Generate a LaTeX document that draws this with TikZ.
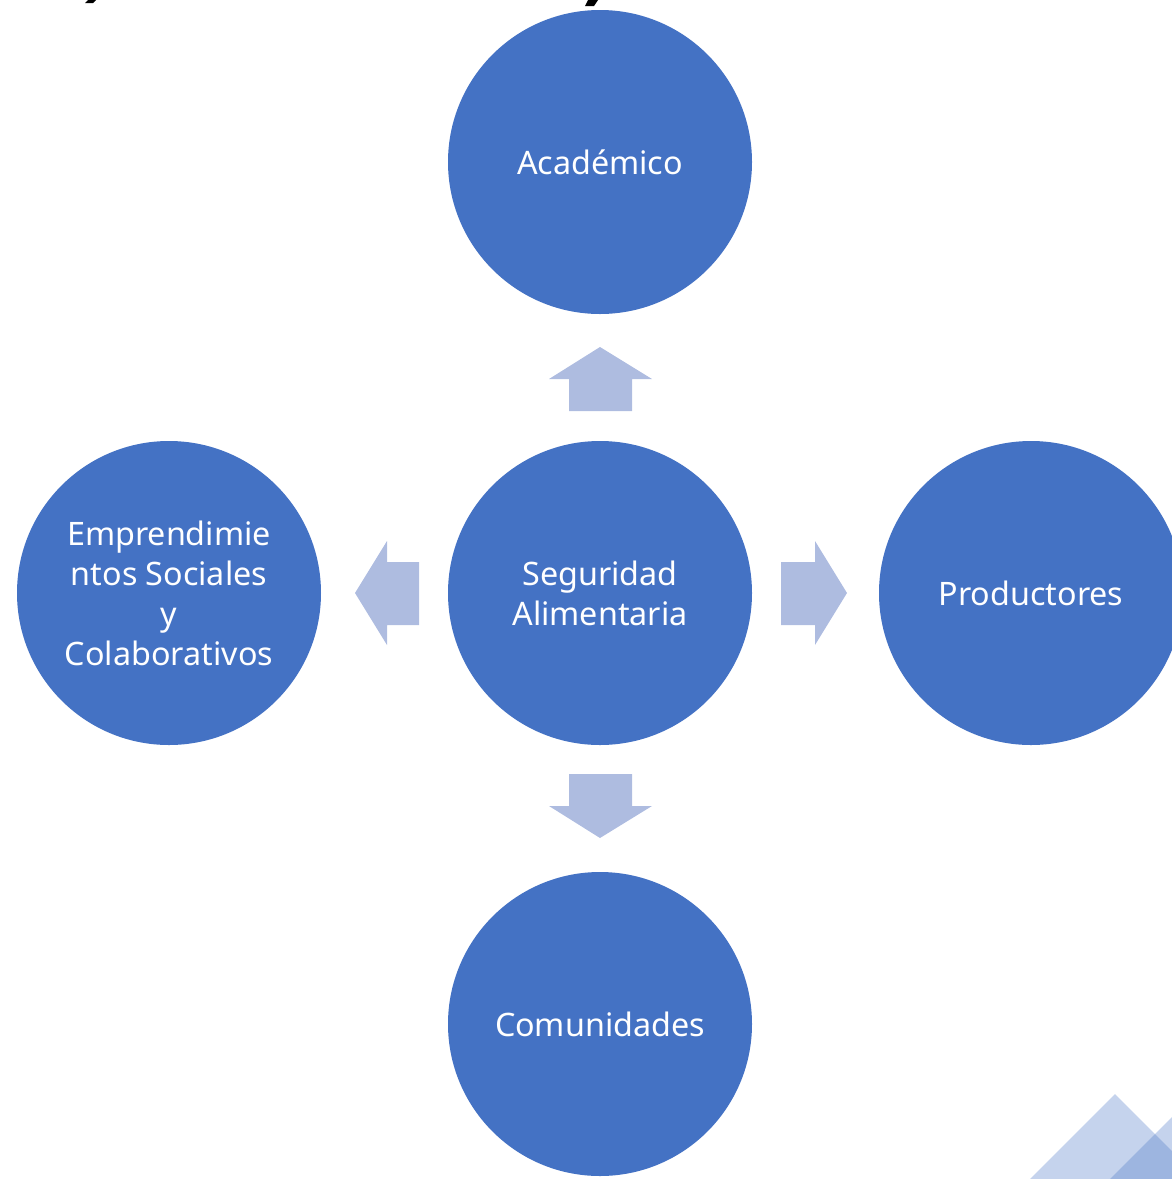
\documentclass[tikz,border=0pt]{standalone}
\usepackage{fontspec}
\setmainfont{Noto Sans}
\definecolor{circblue}{HTML}{4472C4}
\definecolor{arrblue}{HTML}{AEBCE0}
\begin{document}
\begin{tikzpicture}[x=1pt,y=-1pt,
  circ/.style={circle,fill=circblue,minimum size=304pt,inner sep=0pt,text=white,
    font=\fontsize{32.3}{40}\selectfont,align=center},
  blockarrow/.style={fill=arrblue,draw=none},
  deco/.style={fill=circblue,opacity=0.31,draw=none}]
\useasboundingbox (0,0) rectangle (1172,1179);
\clip (0,0) rectangle (1172,1179);
% fragments of cut-off text at top
\fill[black] (88,0) -- (96,0) -- (93,3) -- (85,3) -- cycle;
\fill[black] (588,0) -- (598,0) -- (594,6) -- (585,6) -- cycle;
% circles
\node[circ] (acad) at (600,162) {Académico};
\node[circ] (seg) at (600,593) {Seguridad\\Alimentaria};
\node[circ] (emp) at (169,593) {Emprendimie\\ntos Sociales\\y\\Colaborativos};
\node[circ] (prod) at (1031,593) {Productores};
\node[circ] (com) at (600,1024) {Comunidades};
% block arrows
\fill[blockarrow] (569,411) -- (569,379) -- (549,379) -- (600,347) -- (652,379) -- (632,379) -- (632,411) -- cycle;
\fill[blockarrow] (569,774) -- (632,774) -- (632,806) -- (652,806) -- (600,838) -- (549,806) -- (569,806) -- cycle;
\fill[blockarrow] (419,562) -- (387,562) -- (387,541) -- (355,593) -- (387,645) -- (387,625) -- (419,625) -- cycle;
\fill[blockarrow] (781,562) -- (815,562) -- (815,541) -- (847,593) -- (815,645) -- (815,625) -- (781,625) -- cycle;
% decorative triangles
\fill[deco] (1030,1179) -- (1115,1094) -- (1200,1179) -- cycle;
\fill[deco] (1110,1179) -- (1190,1099) -- (1270,1179) -- cycle;
\end{tikzpicture}
\end{document}
